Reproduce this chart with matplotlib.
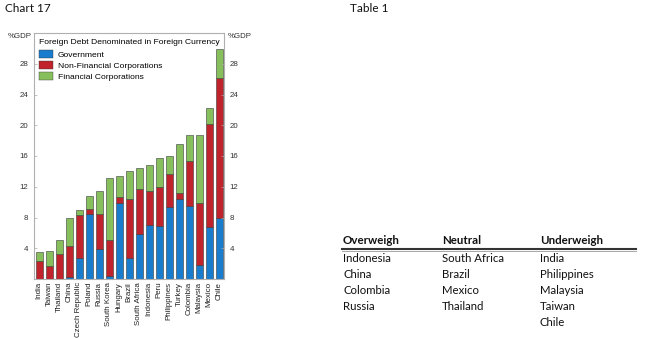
import matplotlib
matplotlib.use("Agg")
import matplotlib.pyplot as plt
from matplotlib.patches import Patch
import numpy as np

countries = ["India", "Taiwan", "Thailand", "China", "Czech Republic", "Poland",
             "Russia", "South Korea", "Hungary", "Brazil", "South Africa",
             "Indonesia", "Peru", "Philippines", "Turkey", "Colombia",
             "Malaysia", "Mexico", "Chile"]
government = [0.0, 0.0, 0.0, 0.2, 2.7, 8.45, 3.9, 0.45, 9.95, 2.7, 5.8,
              7.0, 6.85, 9.4, 10.4, 9.5, 1.8, 6.8, 7.9]
non_financial = [2.3, 1.7, 3.2, 4.1, 5.6, 0.65, 4.55, 4.65, 0.75, 7.65, 5.9,
                 4.5, 5.15, 4.3, 0.8, 5.9, 8.05, 13.4, 18.3]
financial = [1.2, 2.0, 1.85, 3.6, 0.65, 1.7, 3.05, 8.1, 2.7, 3.7, 2.7,
             3.3, 3.8, 2.3, 6.4, 3.3, 8.85, 2.0, 3.7]
yticks = [4, 8, 12, 16, 20, 24, 28]

legend_title = "Foreign Debt Denominated in Foreign Currency"
series_names = ["Government", "Non-Financial Corporations", "Financial Corporations"]
colors = ["#1a7ccc", "#c0232c", "#86bf5c"]

table_headers = ["Overweigh", "Neutral", "Underweigh"]
table_columns = [
    ["Indonesia", "China", "Colombia", "Russia"],
    ["South Africa", "Brazil", "Mexico", "Thailand"],
    ["India", "Philippines", "Malaysia", "Taiwan", "Chile"],
]

plt.rcParams["font.family"] = ["Liberation Sans", "DejaVu Sans"]

W, H = 655, 338
fig = plt.figure(figsize=(W / 100, H / 100), dpi=100)
fig.patch.set_facecolor("white")

def px(x, y):
    return x / W, 1 - y / H

# Chart area
l, t, r, b = 34, 33, 224, 279
ax = fig.add_axes([l / W, 1 - b / H, (r - l) / W, (b - t) / H])
x = np.arange(len(countries))
g = np.array(government)
nf = np.array(non_financial)
fc = np.array(financial)
edge = dict(edgecolor="#3a3a3a", linewidth=0.4, width=0.7)
ax.bar(x, g, color=colors[0], **edge)
ax.bar(x, nf, bottom=g, color=colors[1], **edge)
ax.bar(x, fc, bottom=g + nf, color=colors[2], **edge)

ax.set_xlim(-0.5, len(countries) - 0.5)
ax.set_ylim(0, 32)
ax.set_yticks(yticks)
ax.set_xticks(x)
ax.set_xticklabels(countries, rotation=90, fontsize=5.7, color="#222222")
ax.tick_params(axis="x", length=0, pad=2)
ax.tick_params(axis="y", direction="in", length=2.5, width=0.5,
               labelsize=5.7, colors="#aaaaaa", labelcolor="#333333", pad=4)
for s in ax.spines.values():
    s.set_color("#b0b0b0")
    s.set_linewidth(0.8)

ax2 = ax.twinx()
ax2.set_ylim(0, 32)
ax2.set_yticks(yticks)
ax2.tick_params(axis="y", direction="in", length=2.5, width=0.5,
                labelsize=5.7, colors="#aaaaaa", labelcolor="#333333", pad=4)
for s in ax2.spines.values():
    s.set_visible(False)

fig.text(*px(8, 37), "%GDP", fontsize=5.7, color="#333333", va="center", ha="left")
fig.text(*px(228, 37), "%GDP", fontsize=5.7, color="#333333", va="center", ha="left")

handles = [Patch(facecolor=c, edgecolor="#3a3a3a", linewidth=0.3) for c in colors]
leg = ax.legend(handles, series_names, title=legend_title, loc="upper left",
                bbox_to_anchor=(0.0, 0.995), frameon=False, fontsize=6.1,
                title_fontsize=6.1, handlelength=1.6, handleheight=1.0,
                handletextpad=0.6, labelspacing=0.25, borderaxespad=0.2,
                alignment="left")
leg._legend_box.sep = 3

# Titles
fig.text(*px(5, 8), "Chart 17", fontsize=8.5, family="Lato", va="center", ha="left",
         color="#111111")
fig.text(*px(350, 8), "Table 1", fontsize=8.5, family="Lato", va="center", ha="left",
         color="#111111")

# Table
col_x = [343, 442, 540]
for cx, head, items in zip(col_x, table_headers, table_columns):
    fig.text(*px(cx, 241), head, fontsize=8.3, family="Lato", fontweight="bold",
             va="center", ha="left", color="#111111")
    for i, item in enumerate(items):
        fig.text(*px(cx, 258 + 16 * i), item, fontsize=8.2, family="Lato",
                 va="center", ha="left", color="#111111")
line_y = 1 - 249 / H
fig.add_artist(plt.Line2D([342 / W, 636 / W], [line_y, line_y], color="#333333",
                          linewidth=1.5, transform=fig.transFigure))
line_y2 = 1 - 251 / H
fig.add_artist(plt.Line2D([342 / W, 636 / W], [line_y2, line_y2], color="#999999",
                          linewidth=0.6, transform=fig.transFigure))

fig.savefig("out.png", dpi=100, facecolor="white")
